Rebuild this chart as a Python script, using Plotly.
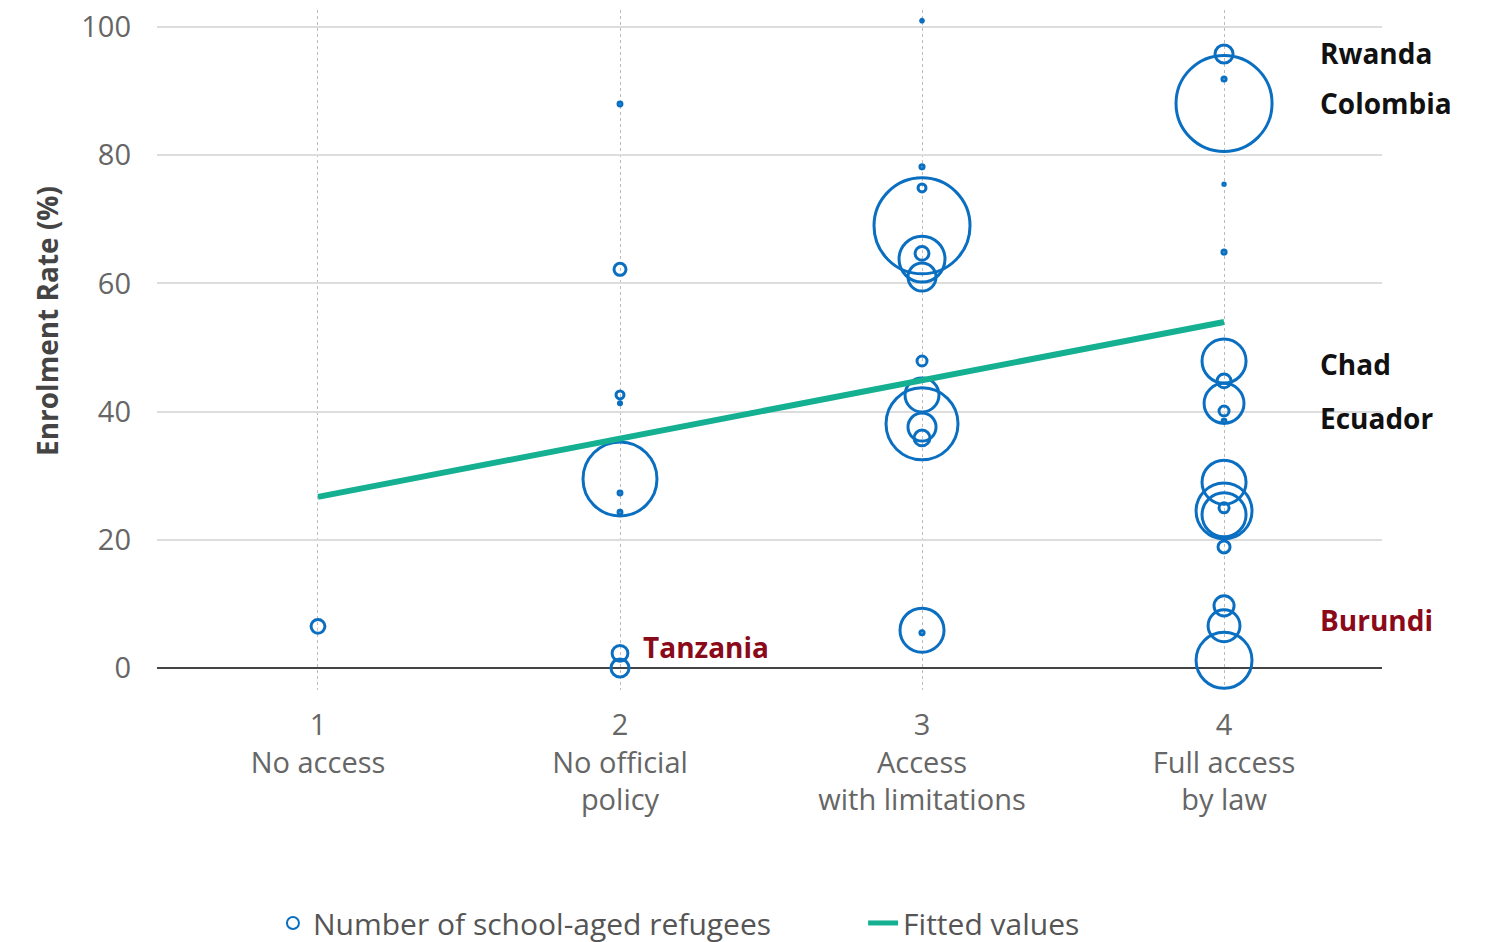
import plotly.graph_objects as go

# ---- data ----
policy_levels = [1, 2, 3, 4]
policy_labels = ["1<br>No access", "2<br>No official<br>policy",
                 "3<br>Access<br>with limitations", "4<br>Full access<br>by law"]

policy = [1,
          2, 2, 2, 2, 2, 2, 2, 2, 2,
          3, 3, 3, 3, 3, 3, 3, 3, 3, 3, 3, 3, 3, 3,
          4, 4, 4, 4, 4, 4, 4, 4, 4, 4, 4, 4, 4, 4, 4, 4, 4, 4]
enrolment = [6.5,
             88.0, 62.2, 42.6, 41.3, 29.5, 27.3, 24.3, 2.3, 0.0,
             101.0, 78.2, 74.9, 69.0, 63.8, 64.7, 61.0, 47.9, 42.6, 38.1, 37.6, 35.9, 5.9, 5.5,
             95.8, 88.1, 91.9, 75.5, 64.9, 47.9, 44.8, 41.3, 40.1, 38.5, 29.0, 24.5, 23.9, 25.0, 18.9, 9.7, 6.6, 1.2]
refugees_k = [10,
              0.8, 7.5, 3.3, 0.5, 285, 0.8, 0.8, 13, 17,
              0.4, 0.9, 3.3, 480, 110, 10, 41, 5.2, 60, 270, 41, 13, 101, 0.9,
              17, 480, 0.9, 0.3, 0.9, 101, 10, 83, 5.2, 0.8, 101, 163, 101, 5.2, 7.5, 21, 53, 163]

fit_x = [1, 4]
fit_y = [26.7, 54.0]

label_names = ["Rwanda", "Colombia", "Chad", "Ecuador", "Burundi", "Tanzania"]
label_x = [4.31, 4.31, 4.31, 4.31, 4.31, 2.07]
label_y = [95.9, 88.1, 47.4, 39.0, 7.5, 3.3]
label_colors = ["#111111", "#111111", "#111111", "#111111", "#8b0a1a", "#8b0a1a"]

y_title = "Enrolment Rate (%)"

FONT = "Open Sans"
BLUE = "#0b6fc1"
TEAL = "#14b091"

fig = go.Figure()
fig.add_trace(go.Scatter(
    x=policy, y=enrolment, mode="markers",
    name="Number of school-aged refugees", legend="legend",
    marker=dict(size=refugees_k, sizemode="area",
                sizeref=2 * max(refugees_k) / (96 ** 2),
                color="rgba(0,0,0,0)", opacity=1,
                line=dict(color=BLUE, width=3)),
    cliponaxis=False,
))
fig.add_trace(go.Scatter(
    x=fit_x, y=fit_y, mode="lines", name="Fitted values", legend="legend2",
    line=dict(color=TEAL, width=6),
))

for n, x, y, c in zip(label_names, label_x, label_y, label_colors):
    fig.add_annotation(x=x, y=y, xref="x", yref="y", text="<b>%s</b>" % n,
                       showarrow=False, xanchor="left", yanchor="middle",
                       font=dict(family=FONT, size=28, color=c))

# y-axis title as rotated text
fig.add_annotation(x=0, y=0.5426, xref="paper", yref="paper", xshift=-110,
                   text="<b>%s</b>" % y_title, textangle=-90, showarrow=False,
                   xanchor="center", yanchor="middle",
                   font=dict(family=FONT, size=28, color="#444444"))

legend_common = dict(orientation="h", xref="container", yref="container",
                     xanchor="left", yanchor="middle", y=0.0287,
                     font=dict(family=FONT, size=30, color="#555555"),
                     itemsizing="constant", itemwidth=30,
                     bgcolor="rgba(0,0,0,0)")

fig.update_layout(
    width=1491, height=942,
    margin=dict(l=149, r=117, t=2, b=260, autoexpand=False),
    paper_bgcolor="white", plot_bgcolor="white",
    font=dict(family=FONT, size=29, color="#666666"),
    showlegend=True,
    legend=dict(x=0.1777, **legend_common),
    legend2=dict(x=0.5735, **legend_common),
    xaxis=dict(range=[0.467, 4.523], tickvals=policy_levels, ticktext=policy_labels,
               showgrid=True, griddash="dot", gridcolor="#bbbbbb", gridwidth=1.2,
               zeroline=False, showline=False, ticks="", ticklabelstandoff=15,
               ticklabeloverflow="allow", automargin=False,
               tickfont=dict(size=29, color="#666666")),
    yaxis=dict(range=[-3.43, 102.67], tickvals=[0, 20, 40, 60, 80, 100],
               showgrid=True, gridcolor="#dddddd", gridwidth=1.5,
               zeroline=True, zerolinecolor="#444444", zerolinewidth=2,
               ticks="", ticklabelstandoff=25, ticklabeloverflow="allow",
               automargin=False,
               tickfont=dict(size=29, color="#666666")),
)

fig.write_html("out.html")
